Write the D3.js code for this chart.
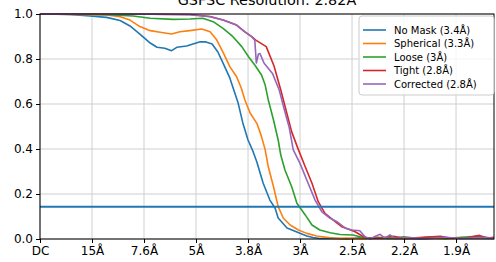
<!DOCTYPE html>
<html lang="en">
<head>
  <meta charset="UTF-8" />
  <title>GSFSC Resolution</title>
  <script src="https://d3js.org/d3.v7.min.js"></script>
  <style>
    body { margin: 0; background: #fff; }
    svg { display: block; font-family: "DejaVu Sans", sans-serif; }
  </style>
</head>
<body>
  <div id="chart"></div>
  <script>
    // ----- Data -----
    // x in tick units (tick i sits at resolution tickLabels[i]), y = FSC
    const tickLabels = ['DC', '15Å', '7.6Å', '5Å', '3.8Å', '3Å', '2.5Å', '2.2Å', '1.9Å'];
    const yTicks = [0, 0.2, 0.4, 0.6, 0.8, 1.0];
    const threshold = 0.143;
    const titleText = 'GSFSC Resolution: 2.82Å';

    const noMask = [
      [0, 1], [0.58, 0.998], [0.96, 0.991], [1.28, 0.985], [1.54, 0.971], [1.73, 0.947],
      [1.92, 0.911], [2.12, 0.871], [2.25, 0.852], [2.40, 0.848], [2.53, 0.837], [2.63, 0.852],
      [2.82, 0.858], [3.08, 0.877], [3.19, 0.876], [3.31, 0.867], [3.42, 0.831], [3.52, 0.782],
      [3.65, 0.716], [3.81, 0.604], [3.90, 0.516], [4.00, 0.44], [4.10, 0.387], [4.17, 0.342],
      [4.29, 0.249], [4.42, 0.173], [4.52, 0.138], [4.58, 0.093], [4.75, 0.049], [4.94, 0.031],
      [5.13, 0.013], [5.25, 0.007], [5.38, 0.002], [5.6, 0.004], [5.9, 0.0], [6.2, 0.006],
      [6.5, 0.002], [6.9, 0.004], [7.3, 0.0], [7.7, 0.005], [8.1, 0.002], [8.5, 0.004], [8.73, 0.001]
    ];
    const spherical = [
      [0, 1], [1.28, 0.996], [1.54, 0.988], [1.73, 0.973], [1.92, 0.944], [2.12, 0.926],
      [2.31, 0.919], [2.53, 0.911], [2.69, 0.921], [2.88, 0.926], [3.11, 0.933], [3.27, 0.921],
      [3.40, 0.884], [3.53, 0.825], [3.65, 0.766], [3.78, 0.721], [3.87, 0.671], [3.94, 0.618],
      [4.04, 0.56], [4.17, 0.514], [4.26, 0.455], [4.33, 0.396], [4.39, 0.321], [4.49, 0.232],
      [4.58, 0.144], [4.68, 0.092], [4.81, 0.062], [4.97, 0.04], [5.13, 0.025], [5.32, 0.013],
      [5.51, 0.008], [5.67, 0.002], [5.9, 0.004], [6.2, 0.001], [6.6, 0.005], [7.0, 0.0],
      [7.4, 0.004], [7.8, 0.001], [8.2, 0.005], [8.73, 0.002]
    ];
    const loose = [
      [0, 1], [1.28, 0.997], [1.79, 0.991], [2.12, 0.981], [2.56, 0.976], [2.88, 0.978],
      [3.13, 0.981], [3.33, 0.966], [3.52, 0.936], [3.71, 0.899], [3.88, 0.855], [4.01, 0.81],
      [4.13, 0.773], [4.26, 0.729], [4.33, 0.684], [4.39, 0.618], [4.49, 0.529], [4.58, 0.44],
      [4.63, 0.373], [4.71, 0.307], [4.84, 0.232], [4.94, 0.159], [5.10, 0.107], [5.23, 0.062],
      [5.38, 0.04], [5.58, 0.028], [5.77, 0.02], [6.02, 0.018], [6.15, 0.01], [6.28, 0.003],
      [6.5, 0.008], [6.7, 0.002], [7.0, 0.01], [7.2, 0.003], [7.5, 0.009], [7.8, 0.002],
      [8.1, 0.008], [8.4, 0.012], [8.73, 0.003]
    ];
    const tight = [
      [0, 1], [2.12, 0.999], [2.88, 0.998], [3.27, 0.989], [3.52, 0.973], [3.78, 0.951],
      [3.94, 0.921], [4.07, 0.899], [4.15, 0.884], [4.35, 0.855], [4.50, 0.769], [4.63, 0.662],
      [4.73, 0.573], [4.84, 0.476], [4.97, 0.396], [5.10, 0.321], [5.23, 0.248], [5.35, 0.166],
      [5.48, 0.114], [5.64, 0.084], [5.80, 0.055], [5.90, 0.047], [6.06, 0.032], [6.22, 0.01],
      [6.35, 0.002], [6.5, 0.004], [6.8, 0.012], [7.0, 0.002], [7.3, 0.006], [7.7, 0.012],
      [7.9, 0.003], [8.2, 0.004], [8.45, 0.016], [8.6, 0.004], [8.73, 0.008]
    ];
    const corrected = [
      [0, 1], [2.12, 0.999], [2.88, 0.997], [3.27, 0.988], [3.52, 0.973], [3.78, 0.951],
      [3.94, 0.921], [4.07, 0.899], [4.13, 0.884], [4.16, 0.782], [4.20, 0.822], [4.23, 0.824],
      [4.31, 0.781], [4.47, 0.736], [4.60, 0.662], [4.70, 0.573], [4.79, 0.498], [4.87, 0.396],
      [5.00, 0.336], [5.13, 0.262], [5.29, 0.173], [5.42, 0.121], [5.58, 0.092], [5.71, 0.077],
      [5.87, 0.048], [6.00, 0.04], [6.15, 0.037], [6.25, 0.01], [6.35, 0.0], [6.44, 0.011],
      [6.54, 0.021], [6.63, 0.004], [6.73, 0.018], [6.83, 0.002], [7.1, 0.006], [7.4, 0.001],
      [7.8, 0.008], [8.1, 0.002], [8.5, 0.006], [8.73, 0.003]
    ];

    const seriesNames = ['No Mask (3.4Å)', 'Spherical (3.3Å)', 'Loose (3Å)', 'Tight (2.8Å)', 'Corrected (2.8Å)'];
    const seriesData = [noMask, spherical, loose, tight, corrected];
    const colors = ['#1f77b4', '#ff7f0e', '#2ca02c', '#d62728', '#9467bd'];

    // ----- Setup SVG -----
    const width = 496, height = 262;
    const margin = { top: 14, right: 2, bottom: 23, left: 40 };

    const svg = d3.select('#chart').append('svg')
      .attr('width', width)
      .attr('height', height);

    // ----- Scales -----
    const x = d3.scaleLinear().domain([0, 8.73]).range([margin.left, width - margin.right]);
    const y = d3.scaleLinear().domain([0, 1]).range([height - margin.bottom, margin.top]);

    // ----- Grid -----
    const grid = svg.append('g');
    tickLabels.forEach((t, i) => {
      grid.append('line')
        .attr('x1', x(i)).attr('x2', x(i))
        .attr('y1', y(0)).attr('y2', y(1))
        .attr('stroke', '#cfcfcf').attr('stroke-width', 1);
    });
    yTicks.forEach(t => {
      grid.append('line')
        .attr('x1', x.range()[0]).attr('x2', x.range()[1])
        .attr('y1', y(t)).attr('y2', y(t))
        .attr('stroke', '#cfcfcf').attr('stroke-width', 1);
    });

    // ----- Curves -----
    const line = d3.line().x(d => x(d[0])).y(d => y(d[1]));
    const plot = svg.append('g');
    seriesData.forEach((s, i) => {
      plot.append('path')
        .datum(s)
        .attr('d', line)
        .attr('fill', 'none')
        .attr('stroke', colors[i])
        .attr('stroke-width', 1.6)
        .attr('stroke-linejoin', 'round');
    });

    // threshold line
    plot.append('line')
      .attr('x1', x.range()[0]).attr('x2', x.range()[1])
      .attr('y1', y(threshold)).attr('y2', y(threshold))
      .attr('stroke', colors[0])
      .attr('stroke-width', 2);

    // ----- Axes -----
    const xAxis = d3.axisBottom(x)
      .tickValues(d3.range(tickLabels.length))
      .tickFormat(i => tickLabels[i])
      .tickSize(4).tickPadding(3);
    const yAxis = d3.axisLeft(y)
      .tickValues(yTicks)
      .tickFormat(d3.format('.1f'))
      .tickSize(4).tickPadding(3);

    const gx = svg.append('g')
      .attr('transform', `translate(0,${y(0)})`)
      .call(xAxis);
    const gy = svg.append('g')
      .attr('transform', `translate(${margin.left},0)`)
      .call(yAxis);
    [gx, gy].forEach(g => {
      g.select('.domain').remove();
      g.selectAll('line').attr('stroke', '#000').attr('stroke-width', 1);
      g.selectAll('text').attr('font-size', '12px').attr('fill', '#000')
        .attr('font-family', '"DejaVu Sans", sans-serif');
    });

    // frame
    svg.append('rect')
      .attr('x', x.range()[0]).attr('y', y(1))
      .attr('width', x.range()[1] - x.range()[0])
      .attr('height', y(0) - y(1))
      .attr('fill', 'none')
      .attr('stroke', '#000')
      .attr('stroke-width', 1);

    // ----- Title -----
    svg.append('text')
      .attr('x', (x.range()[0] + x.range()[1]) / 2)
      .attr('y', 5)
      .attr('text-anchor', 'middle')
      .attr('font-size', '14.4px')
      .text(titleText);

    // ----- Legend -----
    const legend = svg.append('g').attr('transform', 'translate(359,16)');
    legend.append('rect')
      .attr('width', 135).attr('height', 79)
      .attr('rx', 3)
      .attr('fill', 'rgba(255,255,255,0.8)')
      .attr('stroke', '#cccccc');
    seriesNames.forEach((name, i) => {
      const ly = 14 + i * 13.5;
      legend.append('line')
        .attr('x1', 4).attr('x2', 27)
        .attr('y1', ly).attr('y2', ly)
        .attr('stroke', colors[i]).attr('stroke-width', 1.6);
      legend.append('text')
        .attr('x', 35).attr('y', ly + 3.6)
        .attr('font-size', '10px')
        .text(name);
    });
  </script>
</body>
</html>
